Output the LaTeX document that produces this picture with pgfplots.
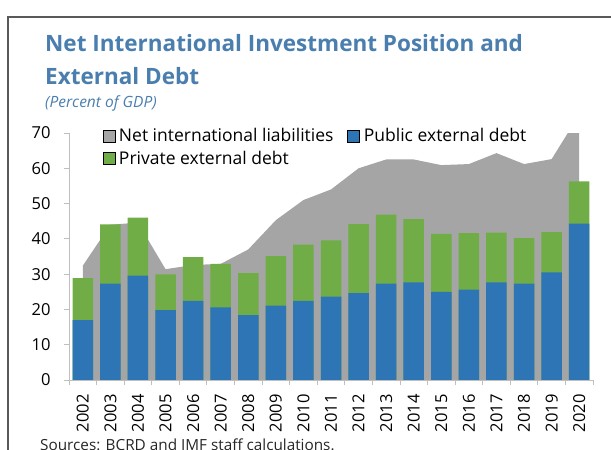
\documentclass[border=0pt]{standalone}
\usepackage{pgfplots}
\usepackage{pgfplotstable}
\pgfplotsset{compat=1.18}
\usepackage{fontspec}
\setmainfont{Open Sans}
\definecolor{pubblue}{HTML}{2E75B6}
\definecolor{privgreen}{HTML}{70AD47}
\definecolor{niigray}{HTML}{A5A5A5}
\definecolor{titleblue}{HTML}{4A7EAE}
\definecolor{axisgray}{HTML}{BFBFBF}
\definecolor{framegray}{HTML}{595959}

\pgfplotstableread{
idx pub priv nil
0 17.0 11.9 32.4
1 27.3 16.8 44.0
2 29.6 16.4 44.6
3 19.8 10.1 31.4
4 22.4 12.4 32.6
5 20.6 12.3 32.9
6 18.4 11.9 37.0
7 21.1 14.0 45.3
8 22.4 16.0 51.0
9 23.6 16.0 54.0
10 24.6 19.6 60.0
11 27.3 19.6 62.5
12 27.7 17.9 62.5
13 25.0 16.4 60.9
14 25.6 16.0 61.2
15 27.7 14.1 64.3
16 27.3 12.9 61.2
17 30.5 11.4 62.6
18 44.3 12.0 75.2
}\data

\begin{document}
\begin{tikzpicture}
\useasboundingbox (0pt,0pt) rectangle (611pt,450pt);
\draw[framegray, line width=1.2pt] (8pt,-5pt) -- (8pt,433pt) -- (620pt,433pt);
\node[anchor=base west, inner sep=0, font=\fontsize{22.5}{26}\selectfont\bfseries, text=titleblue] at (45pt,398pt) {Net International Investment Position and};
\node[anchor=base west, inner sep=0, font=\fontsize{22.5}{26}\selectfont\bfseries, text=titleblue] at (45pt,365pt) {External Debt};
\node[anchor=base west, inner sep=0, font=\fontsize{15.5}{18}\selectfont\itshape, text=titleblue] at (45pt,342pt) {(Percent of GDP)};
\node[anchor=base west, inner sep=0, font=\fontsize{15.3}{18}\selectfont, text=black!85] at (40pt,-0.5pt) {Sources: BCRD and IMF staff calculations.};
\begin{axis}[
  at={(69pt,70pt)}, anchor=south west, scale only axis,
  width=524pt, height=247pt,
  xmin=-0.5, xmax=18.5, ymin=0, ymax=70,
  axis lines=left, axis line style={-, axisgray, line width=0.8pt},
  xtick={0,...,18},
  xticklabels={2002,2003,2004,2005,2006,2007,2008,2009,2010,2011,2012,2013,2014,2015,2016,2017,2018,2019,2020},
  major x tick style={draw=none},
  minor xtick={-0.5,0.5,...,18.5},
  minor tick length=5pt,
  minor x tick style={axisgray, line width=0.8pt},
  ytick={0,10,...,70},
  major y tick style={axisgray, line width=0.8pt},
  major tick length=5pt,
  tick align=outside,
  /pgf/number format/assume math mode=true,
  xticklabel shift=6pt,
  xticklabel style={rotate=90, anchor=east, font=\fontsize{16.5}{19}\selectfont},
  yticklabel style={font=\fontsize{16.5}{19}\selectfont, xshift=-10pt},
  legend columns=2,
  legend cell align=left,
  legend style={draw=none, fill=none, at={(rel axis cs:0.058,1.036)}, anchor=north west,
    font=\fontsize{17.5}{20}\selectfont, row sep=4pt,
    /tikz/every odd column/.append style={column sep=2pt},
    /tikz/every even column/.append style={column sep=12pt}},
  legend image code/.code={\fill[#1] (0pt,-6pt) rectangle (12pt,6pt);},
]
\addplot[fill=niigray, draw=none, forget plot] table[x=idx, y=nil] {\data} \closedcycle;
\addplot[ybar, bar width=20.5pt, bar shift=0pt, fill=privgreen, draw=none, forget plot] table[x=idx, y expr=\thisrow{pub}+\thisrow{priv}] {\data};
\addplot[ybar, bar width=20.5pt, bar shift=0pt, fill=pubblue, draw=none, forget plot] table[x=idx, y=pub] {\data};
\addlegendimage{fill=niigray}
\addlegendentry{Net international liabilities}
\addlegendimage{fill=pubblue}
\addlegendentry{Public external debt}
\addlegendimage{fill=privgreen}
\addlegendentry{Private external debt}
\end{axis}
\end{tikzpicture}
\end{document}
